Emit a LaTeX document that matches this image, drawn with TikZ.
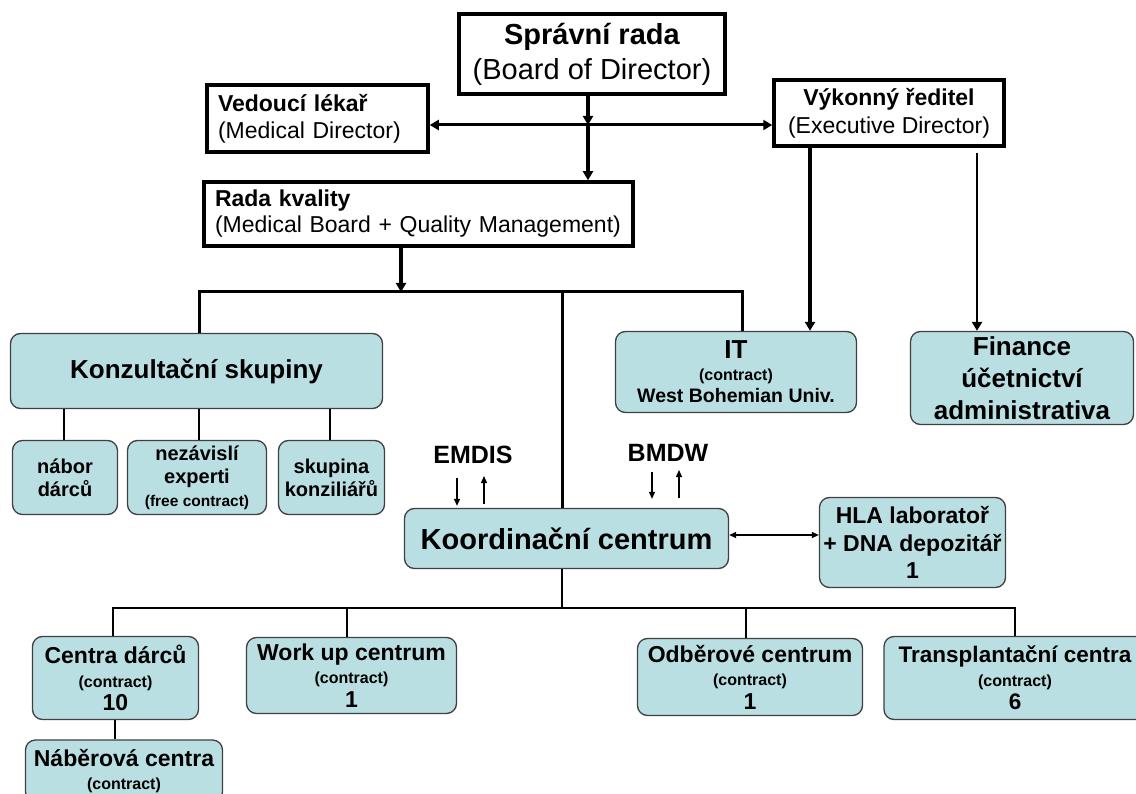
\documentclass[tikz,border=0pt]{standalone}
\usepackage{fontspec}
\setmainfont{Liberation Sans}
\usetikzlibrary{arrows.meta}
\definecolor{boxfill}{RGB}{186,223,226}
\definecolor{boxline}{RGB}{64,64,64}
\newcommand\fsz[2]{\fontsize{#1}{#2}\selectfont}
\begin{document}
\begin{tikzpicture}[x=1pt,y=-1pt,
  sqbox/.style={draw,line width=3.5pt,inner sep=0pt,align=center},
  rbox/.style={draw=boxline,fill=boxfill,line width=1.3pt,rounded corners=10pt,inner sep=0pt,align=center,font=\bfseries},
  bigtip/.style={-{Triangle[width=10pt,length=9pt]}},
  bothtip/.style={{Triangle[width=10pt,length=9pt]}-{Triangle[width=10pt,length=9pt]}},
  smalltip/.style={-{Triangle[width=6pt,length=7pt]}},
  smallboth/.style={{Triangle[width=6pt,length=7pt]}-{Triangle[width=6pt,length=7pt]}},
  thinln/.style={line width=1.2pt},
  lbl/.style={font=\bfseries\fsz{25}{30},inner sep=0pt}
]
\clip (0,0) rectangle (1136,794);
\fill[white] (0,0) rectangle (1136,794);

% ---- top square boxes
\node[sqbox,minimum width=266pt,minimum height=80pt,font=\fsz{29}{35}] (board) at (592,54)
  {\textbf{Správní rada}\\(Board of Director)};
\node[sqbox,minimum height=67pt,text width=199pt,align=left,inner xsep=11pt,font=\fsz{23}{27}] (ved) at (317.5,118.5)
  {\textbf{Vedoucí lékař}\\(Medical Director)};
\node[sqbox,minimum width=230pt,minimum height=66pt,font=\fsz{23}{28}] (vyk) at (889,113)
  {\textbf{Výkonný ředitel}\\(Executive Director)};
\node[sqbox,minimum height=64pt,text width=407pt,align=left,inner xsep=11pt,font=\fsz{23}{26}] (rada) at (418.5,214)
  {\textbf{Rada kvality}\\(Medical Board + Quality Management)};

% ---- rounded boxes
\node[rbox,minimum width=372pt,minimum height=75pt,font=\bfseries\fsz{26}{31}] (konz) at (196.5,371) {Konzultační skupiny};
\node[rbox,minimum width=105pt,minimum height=74pt,font=\bfseries\fsz{20}{23}] (nabor) at (65,477.5) {nábor\\dárců};
\node[rbox,minimum width=139pt,minimum height=74pt,font=\bfseries\fsz{20}{23}] (nez) at (197,477.5) {nezávislí\\experti\\{\fsz{15.5}{23}(free contract)}};
\node[rbox,minimum width=106pt,minimum height=74pt,font=\bfseries\fsz{20}{23}] (skup) at (331.5,477.5) {skupina\\konziliářů};
\node[rbox,minimum width=241pt,minimum height=81pt,font=\bfseries\fsz{19.5}{22}] (it) at (736,372) {{\fsz{26}{22}IT}\\{\fsz{16}{22}(contract)}\\West Bohemian Univ.};
\node[rbox,minimum width=223pt,minimum height=93pt,font=\bfseries\fsz{26}{32}] (fin) at (1022,378) {Finance\\účetnictví\\administrativa};
\node[rbox,minimum width=324pt,minimum height=60pt,font=\bfseries\fsz{29}{35}] (koord) at (566.5,538.5) {Koordinační centrum};
\node[rbox,minimum width=186pt,minimum height=90pt,font=\bfseries\fsz{23}{27.5}] (hla) at (912.5,542.5) {HLA laboratoř\\+ DNA depozitář\\1};
\node[rbox,minimum width=166pt,minimum height=83pt,font=\bfseries\fsz{23}{23.5}] (cent) at (115.5,678) {Centra dárců\\{\fsz{16}{23.5}(contract)}\\10};
\node[rbox,minimum width=210pt,minimum height=76pt,font=\bfseries\fsz{23}{23.5}] (work) at (351.5,675.5) {Work up centrum\\{\fsz{16}{23.5}(contract)}\\1};
\node[rbox,minimum width=225pt,minimum height=77pt,font=\bfseries\fsz{23}{23.5}] (odb) at (750,677) {Odběrové centrum\\{\fsz{16}{23.5}(contract)}\\1};
\node[rbox,minimum width=262pt,minimum height=83pt,font=\bfseries\fsz{22.5}{23.5}] (trans) at (1015,678) {Transplantační centra\\{\fsz{16}{23.5}(contract)}\\6};
\node[rbox,minimum width=197pt,minimum height=62pt,font=\bfseries\fsz{23}{23.5}] (naber) at (124,771) {Náběrová centra\\{\fsz{16}{23.5}(contract)}};

% ---- labels
\node[lbl] (emdis) at (473,455) {EMDIS};
\node[lbl] (bmdw) at (668,453) {BMDW};

% ---- top connectors
\coordinate (jn) at (588,125);
\draw[line width=4pt,bigtip] (board.south -| jn) -- (jn);
\draw[line width=4pt,bigtip] (jn) -- (rada.north -| jn);
\draw[line width=3pt,bothtip] (ved.east |- jn) -- (vyk.west |- jn);

\coordinate (bus) at (401,292);
\coordinate (busL) at (199,292);
\coordinate (busM) at (562,292);
\coordinate (busR) at (742,292);
\draw[line width=3.5pt,bigtip] (rada.south -| bus) -- (bus);
\draw[line width=3pt] (konz.north -| busL) -- (busL) -- (busR) -- (it.north -| busR);
\draw[line width=3pt] (busM) -- (koord.north -| busM);

\coordinate (itx) at (810,0);
\draw[line width=3.5pt,bigtip] (vyk.south -| itx) -- (it.north -| itx);
\coordinate (finx) at (977,153);
\draw[line width=2.5pt,bigtip] (finx) -- (fin.north -| finx);

% ---- consultation sub-groups
\coordinate (k1) at (64,0);
\coordinate (k2) at (199,0);
\coordinate (k3) at (330,0);
\draw[thinln] (konz.south -| k1) -- (nabor.north -| k1);
\draw[thinln] (konz.south -| k2) -- (nez.north -| k2);
\draw[thinln] (konz.south -| k3) -- (skup.north -| k3);

% ---- EMDIS / BMDW arrows
\coordinate (e1) at (457,478);
\coordinate (e2) at (484,476);
\coordinate (m1) at (652,472);
\coordinate (m2) at (679,470);
\draw[thinln,smalltip,shorten >=2pt] (e1) -- (koord.north -| e1);
\draw[thinln,smalltip,shorten <=4pt] (koord.north -| e2) -- (e2);
\draw[thinln,smalltip,shorten >=9pt] (m1) -- (koord.north -| m1);
\draw[thinln,smalltip,shorten <=10pt] (koord.north -| m2) -- (m2);

% ---- coordination centre to HLA
\coordinate (kh) at (0,535);
\draw[line width=1.3pt,smallboth] (koord.east |- kh) -- (hla.west |- kh);

% ---- bottom tree
\coordinate (bb) at (562,608);
\coordinate (bL) at (113,608);
\coordinate (bR) at (1015,608);
\coordinate (bw) at (347,608);
\coordinate (bo) at (746,608);
\draw[thinln] (koord.south -| bb) -- (bb);
\draw[thinln] (cent.north -| bL) -- (bL) -- (bR) -- (trans.north -| bR);
\draw[thinln] (bw) -- (work.north -| bw);
\draw[thinln] (bo) -- (odb.north -| bo);
\coordinate (cn) at (115,0);
\draw[thinln] (cent.south -| cn) -- (naber.north -| cn);
\end{tikzpicture}
\end{document}
